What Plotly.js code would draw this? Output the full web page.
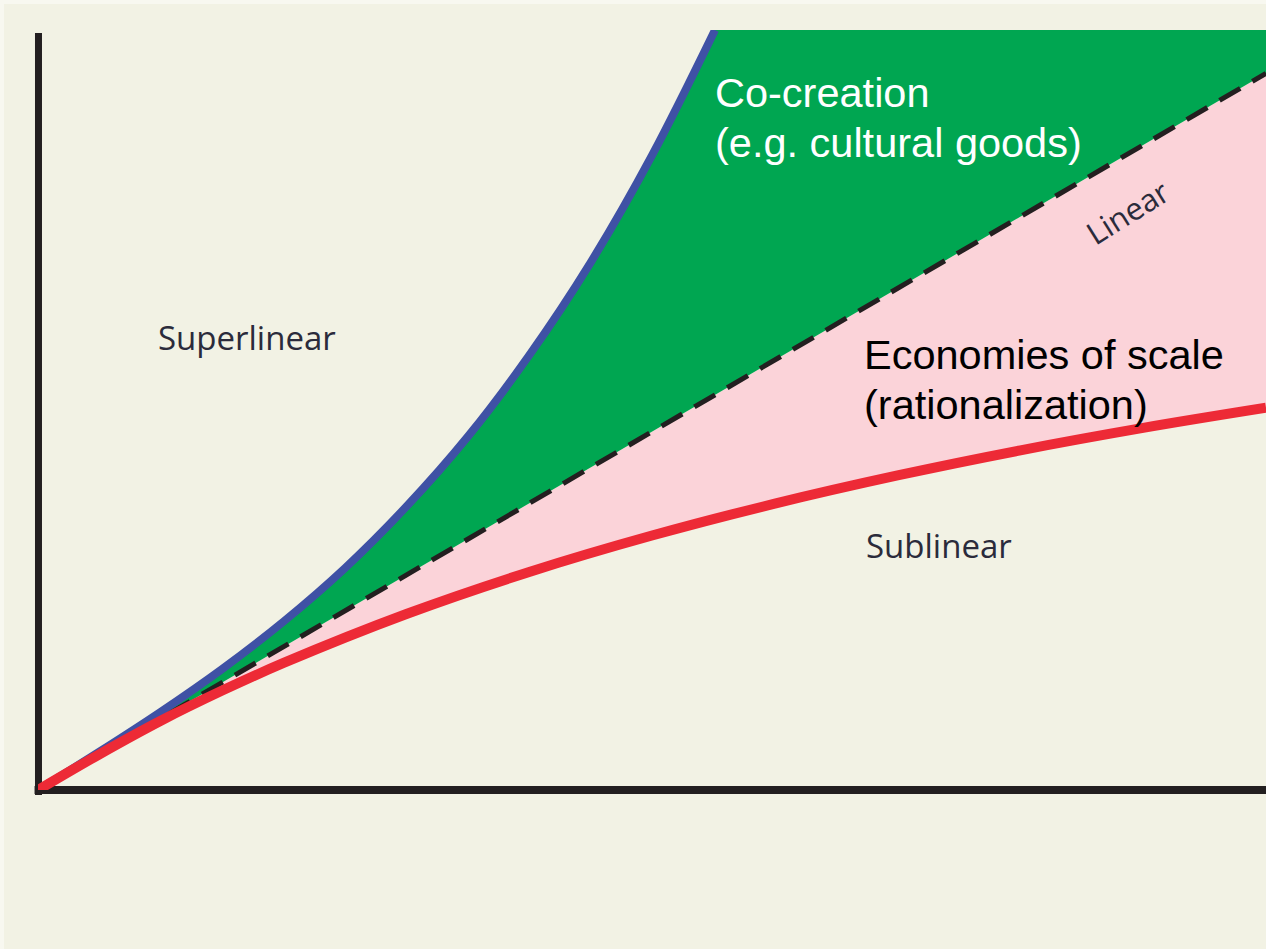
<!DOCTYPE html>
<html>
<head>
<meta charset="utf-8">
<script src="https://cdn.plot.ly/plotly-3.0.1.min.js"></script>
<style>
  body { margin: 0; background: #f8f8f0; }
  #chart { position: absolute; left: 4px; top: 4px; width: 1262px; height: 945px; }
</style>
</head>
<body>
<div id="chart"></div>
<script>
// city size (x) vs output (y), schematic scaling curves
var superX = [0, 5, 10, 15, 20, 25, 30, 35, 40, 45, 50, 55.13];
var superY = [0, 5.04, 10.29, 15.93, 22.17, 29.2, 37.3, 46.5, 57.2, 69.4, 83.5, 100];
var linX = [0, 50, 100];
var linY = [0, 47.15, 94.3];
var subX = [0, 5, 10, 15, 20, 30, 40, 50, 60, 70, 80, 90, 100];
var subY = [0, 4.7, 9.11, 13.08, 16.72, 23.16, 28.69, 33.48, 37.68, 41.39, 44.69, 47.64, 50.29];
var topY = 100;

var bg = '#f2f2e4';
var green = '#00a651';
var pink = '#fbd3d9';
var blue = '#3f51a5';
var red = '#ed2a36';

// pink region: between linear and sublinear
var baseA = {x: linX, y: linY, type: 'scatter', mode: 'lines', line: {width: 0}, hoverinfo: 'skip'};
var pinkFill = {x: subX, y: subY, type: 'scatter', mode: 'lines', fill: 'tonexty', fillcolor: pink,
  line: {width: 0, shape: 'spline'}, hoverinfo: 'skip'};
// green region: between superlinear and linear, up to the top edge
var baseB = {x: linX.concat([100]), y: linY.concat([topY]), type: 'scatter', mode: 'lines',
  line: {width: 0}, hoverinfo: 'skip'};
var greenFill = {x: superX, y: superY, type: 'scatter', mode: 'lines',
  fill: 'tonexty', fillcolor: green, line: {width: 0, shape: 'spline'}, hoverinfo: 'skip'};

var linear = {x: linX, y: linY, type: 'scatter', mode: 'lines',
  line: {color: '#231f20', width: 5, dash: '24px,14px'}};
var superlinear = {x: superX, y: superY, type: 'scatter', mode: 'lines',
  line: {color: blue, width: 8, shape: 'spline'}};
var sublinear = {x: subX, y: subY, type: 'scatter', mode: 'lines',
  line: {color: red, width: 10, shape: 'spline'}};

var data = [baseA, pinkFill, baseB, greenFill, linear, superlinear, sublinear];

var darkText = {family: 'Open Sans', size: 33, color: '#2b2b3b'};
function big(c) { return {family: 'Liberation Sans, Arial', size: 41.5, color: c}; }
function label(x, y, t, f) {
  return {x: x, y: y, xref: 'x', yref: 'y', xanchor: 'left', yanchor: 'middle', showarrow: false, text: t, font: f};
}

var layout = {
  paper_bgcolor: bg,
  plot_bgcolor: bg,
  showlegend: false,
  margin: {l: 34, r: 0, t: 26, b: 159},
  xaxis: {range: [0, 100], showgrid: false, zeroline: false, showticklabels: false, showline: false, fixedrange: true},
  yaxis: {range: [0, 100], showgrid: false, zeroline: false, showticklabels: false, showline: false, fixedrange: true},
  shapes: [
    {type: 'line', xref: 'paper', yref: 'paper', x0: 0.0004, x1: 0.0004, y0: -0.0066, y1: 0.996,
     line: {color: '#231f20', width: 7}, layer: 'below'},
    {type: 'line', xref: 'paper', yref: 'paper', x0: -0.0028, x1: 1.01, y0: 0, y1: 0,
     line: {color: '#231f20', width: 8}, layer: 'below'}
  ],
  annotations: [
    label(55.0, 91.84, 'Co-creation', big('#ffffff')),
    label(55.0, 85.26, '(e.g. cultural goods)', big('#ffffff')),
    label(67.1, 57.24, 'Economies of scale', big('#000000')),
    label(67.1, 50.66, '(rationalization)', big('#000000')),
    label(9.6, 59.5, 'Superlinear', darkText),
    label(67.3, 32.2, 'Sublinear', darkText),
    {x: 88.7, y: 76.1, xref: 'x', yref: 'y', xanchor: 'center', yanchor: 'middle', showarrow: false,
     textangle: -32, text: 'Linear', font: {family: 'Open Sans', size: 31, color: '#2b2b3b'}}
  ]
};

Plotly.newPlot('chart', data, layout, {displayModeBar: false, staticPlot: true});
</script>
</body>
</html>
